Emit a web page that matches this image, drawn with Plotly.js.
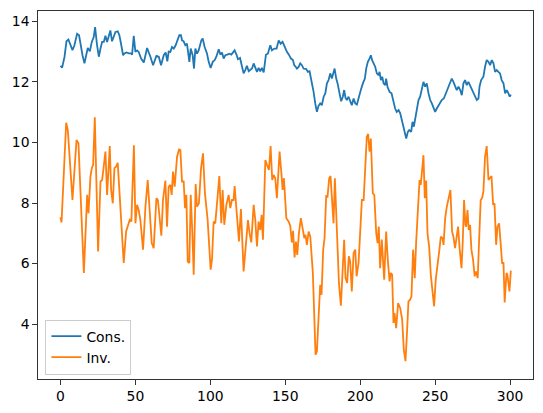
<!DOCTYPE html>
<html>
<head>
<meta charset="utf-8">
<script src="https://cdn.plot.ly/plotly-3.0.1.min.js"></script>
<style>html,body{margin:0;padding:0;background:#fff;}#chart{width:543px;height:413px;}</style>
</head>
<body>
<div id="chart"></div>
<script>
var seriesNames = ["Cons.", "Inv."];
var xTickVals = [0, 50, 100, 150, 200, 250, 300];
var yTickVals = [4, 6, 8, 10, 12, 14];

var consX = [0,1.1,2.7,4,5.3,6.7,8,9.3,11.1,12.4,13.8,14.7,16,17.3,18.2,19.6,20.9,22.2,23.1,24.4,25.6,26.7,27.8,28.9,30,31.1,32.2,33.3,34.4,35.6,36.7,38.2,39.3,40.4,41.8,42.7,44,45.6,47.1,47.8,48.9,50,51.1,52.2,53.8,55.6,57.8,60,61.8,64,65.6,67.1,68.9,70.2,71.3,72.2,73.3,74.4,75.6,76.7,77.8,79.3,80.4,81.1,82.2,83.3,84.4,85.1,86,86.9,88.2,89.1,90,91.1,92.2,94,94.9,96.2,97.8,98.9,100.2,101.6,102.9,104,105.6,106.7,107.8,108.9,110,111.3,112.7,114,115.1,116.2,117.6,118.4,119.8,121.1,122.2,123.3,124.4,125.6,126.7,127.8,128.9,130,131.1,132.2,133.3,134.4,135.6,137.1,138.4,140,141.1,142.7,144.2,145.6,146.9,148.2,149.6,151.1,152.4,153.8,155.1,156,156.9,157.8,159,160,161.1,162.2,164,165.1,166.2,167.8,168.9,170,171.1,172.2,173.3,174.4,175.6,176.7,177.8,178.9,180,181.1,182.2,182.9,184,184.9,186.2,187.3,188.4,189.3,190.2,191.1,192.2,193.3,194.4,195.6,196.7,197.8,199.1,200.4,201.8,203.1,204,205.1,206.2,207.1,208,208.9,210,211.1,212.2,212.9,213.8,214.7,215.6,216.7,217.3,218.2,219.6,220.9,222.2,223.3,224.4,225.6,226.7,227.8,228.9,230,230.7,231.8,232.7,234,234.9,235.8,236.7,237.8,238.9,240,241.1,242.2,243.3,244.4,245.6,246.7,247.8,248.9,250,251.1,252.2,253.3,254.4,255.8,256.7,257.8,258.9,260,261.1,262.2,263.3,264.4,265.6,266.7,267.8,268.9,270,271.1,272.2,273.3,274.4,275.6,276.7,277.8,278.9,279.6,280.7,282.2,283.3,284.4,285.6,286.7,287.8,288.9,290,291.1,292.2,293.3,294.4,295.6,296.7,297.8,298.9,299.8,300.5];
var consY = [12.53,12.47,12.83,13.34,13.40,13.21,13.05,13.21,13.59,13.54,13.10,12.88,12.61,12.93,13.12,13.01,13.32,13.48,13.81,13.21,12.83,13.10,13.32,13.32,13.52,13.32,13.52,13.70,13.34,13.54,13.65,13.67,13.54,13.26,12.88,12.94,12.97,12.94,12.94,12.90,13.52,12.99,13.04,12.99,12.77,12.64,13.12,12.83,12.55,12.86,12.83,12.55,12.88,12.97,12.68,13.00,12.99,13.15,13.10,13.19,13.32,13.54,13.54,13.37,13.34,13.21,13.26,12.88,12.66,13.10,12.88,12.44,13.10,12.93,13.04,13.37,13.43,13.15,12.93,12.66,12.46,12.66,12.72,12.83,13.08,12.90,12.97,12.77,12.88,12.90,12.93,12.90,12.99,13.04,12.88,12.75,12.79,12.55,12.28,12.39,12.53,12.35,12.39,12.44,12.61,12.44,12.33,12.46,12.35,12.46,12.31,12.90,12.93,13.21,13.04,13.10,13.10,13.37,13.26,13.32,13.15,12.99,12.90,12.77,12.72,12.55,12.50,12.44,12.50,12.61,12.55,12.44,12.42,12.33,12.35,12.00,11.67,11.29,11.01,11.21,11.29,11.23,11.51,11.62,11.95,12.06,12.28,12.11,12.33,12.44,12.11,11.95,11.62,11.36,11.51,11.73,11.47,11.40,11.51,11.34,11.23,11.45,11.29,11.25,11.45,11.73,11.95,12.11,12.44,12.66,12.77,12.88,12.71,12.61,12.50,12.28,12.22,12.33,12.06,12.17,11.95,11.89,12.11,11.84,11.67,11.62,11.29,11.12,11.01,11.07,10.96,10.74,10.46,10.24,10.13,10.35,10.41,10.35,10.68,10.52,10.74,11.01,11.40,11.51,11.80,12.00,11.84,11.95,11.62,11.40,11.29,11.12,11.01,11.12,11.23,11.34,11.40,11.45,11.56,11.73,11.89,12.00,12.11,12.00,11.84,11.73,11.84,11.73,11.56,11.95,12.06,11.89,12.00,11.89,11.78,11.67,11.51,11.40,11.45,11.84,12.06,12.17,12.50,12.72,12.66,12.55,12.72,12.61,12.33,12.39,12.33,12.28,12.06,11.95,11.62,11.73,11.62,11.51,11.58];

var invX = [0,0.7,3.8,4.9,8,10.7,12,13.8,15.6,17.8,18.7,20,20.9,21.8,22.9,25.1,26.7,27.8,30,31.1,32.9,33.8,34.9,36,37.1,38.2,39.6,40.7,42.2,43.8,44.9,46.2,47.3,49,50,51.1,52.2,53.3,55.1,56.7,58.2,59.6,60.9,62.2,64,65,66.7,67.3,68.4,70,71.1,72.2,73.3,74.2,75.1,76.2,77.8,79.1,80,81.1,82.2,83.1,84,84.9,86,86.9,88,88.9,90.2,91.1,92.4,93.8,95.1,96.4,98.2,99.3,100.2,101.1,102.2,103.3,106,107.3,108.2,109.3,110.7,112.2,113.3,114.4,115.5,116.2,117.8,119.1,120.4,122.2,123.8,125.1,126.2,127.3,128.9,130,131.1,132.2,133.3,134.2,135.1,136.7,137.8,139.1,140.2,141.3,142.2,143.3,144.4,146.2,147.6,148.2,149.1,150.7,152.2,153.3,154.4,155.2,156.2,157.1,158,159.1,160.4,161.6,162.7,163.5,164.4,165.6,166.7,168.4,169.3,170.2,171.1,172.4,173.3,174.2,175.3,176.2,177.3,178.2,179.3,180.2,181.3,182.2,183.1,184.4,185.8,187.1,188.2,189.3,190.2,191.3,192.4,193.3,194.4,195.6,196.7,197.6,198.9,200,201.1,202.3,203.6,204.4,205.3,206.2,207.1,208.4,209.4,210.7,211.6,212.4,213.3,214.4,216,217.3,218.4,219.6,220.4,221.3,222.2,222.9,224,225.3,226.7,228,229.1,230.2,231.1,232.2,233.3,234.2,235.3,236.4,237.3,238.4,239.6,240.4,241.3,242.2,243.1,244,244.9,246,247.1,248.2,249.3,250.4,251.8,252.7,253.8,254.9,255.6,256.7,257.8,258.9,260.2,261.3,262.2,263.3,264.4,265.3,266.4,267.6,268.4,269.3,270.2,270.7,271.6,272.4,273.3,274.2,275.3,276.4,277.3,278.4,279.6,280.4,281.3,282.2,283.3,284.4,285.6,286.7,287.6,288.7,289.6,290.7,291.6,292.7,293.8,294.7,295.6,296.4,297.6,298.2,299.6,300.5];
var invY = [7.53,7.36,10.65,10.41,8.10,10.08,9.97,7.66,5.69,8.27,7.66,8.87,9.15,9.26,10.83,6.40,8.71,8.76,9.70,8.27,9.88,8.43,7.99,9.15,9.20,9.33,8.10,7.44,6.02,7.06,7.28,7.44,7.39,9.91,7.33,7.94,7.77,7.44,6.46,7.88,8.76,7.77,6.68,6.51,8.16,8.10,7.00,6.92,8.10,8.74,7.22,8.54,8.60,8.27,9.04,8.54,9.53,9.77,9.75,8.71,8.71,7.83,8.27,6.07,6.02,8.27,7.00,5.63,8.63,7.88,7.99,9.15,9.64,8.32,7.44,6.24,5.80,6.13,7.39,7.33,8.89,7.33,8.43,7.28,7.94,8.27,7.83,8.10,8.10,8.56,7.55,6.73,7.80,5.74,6.68,7.44,7.00,6.70,7.94,7.44,6.57,7.39,7.11,7.61,6.79,9.42,9.26,9.09,9.88,8.76,8.93,8.82,8.16,9.70,8.87,8.43,8.82,7.50,7.39,7.25,6.70,7.08,6.20,6.73,6.29,7.00,7.50,7.17,6.84,6.95,6.62,7.06,6.89,5.69,4.48,2.99,3.10,4.48,5.30,4.97,6.46,6.84,8.23,8.21,8.82,8.89,7.77,7.33,8.82,6.89,5.36,4.61,5.91,6.79,5.52,5.36,6.24,6.07,5.08,6.35,6.46,5.58,6.02,7.00,8.10,8.10,9.53,10.19,10.28,9.70,10.13,8.32,8.27,7.00,6.68,7.22,5.85,6.79,5.47,7.06,6.13,5.41,5.69,5.64,4.04,4.37,3.87,4.70,4.53,4.15,3.16,2.78,3.60,4.75,4.81,4.92,6.46,5.52,6.68,7.55,8.76,8.60,9.09,9.58,8.16,8.74,7.00,6.57,5.63,5.19,4.59,5.47,5.96,6.40,6.89,6.84,6.62,7.50,7.88,8.16,8.43,7.06,6.89,6.51,7.00,7.22,6.46,5.85,6.68,8.10,7.28,7.22,7.77,7.11,7.28,6.46,6.13,5.58,5.74,5.52,7.11,8.10,8.16,8.38,9.53,9.88,8.76,8.82,8.89,7.94,7.99,6.62,7.22,7.33,6.68,6.02,6.02,4.72,5.69,5.64,5.08,5.77];

var traces = [
  {x: consX, y: consY, name: seriesNames[0], type: "scatter", mode: "lines",
   line: {color: "#1f77b4", width: 1.8}},
  {x: invX, y: invY, name: seriesNames[1], type: "scatter", mode: "lines",
   line: {color: "#ff7f0e", width: 1.8}}
];

var axisCommon = {
  showgrid: false, zeroline: false, showline: true, mirror: true,
  linecolor: "#000", linewidth: 0.8, ticks: "outside", ticklen: 4.9,
  tickwidth: 0.8, tickcolor: "#000",
  tickfont: {family: "DejaVu Sans", size: 13.9, color: "#000"}
};

var layout = {
  width: 543, height: 413,
  margin: {l: 37.5, r: 10, t: 10.7, b: 33.7, pad: 0},
  paper_bgcolor: "#fff", plot_bgcolor: "#fff",
  showlegend: true,
  xaxis: Object.assign({}, axisCommon, {range: [-15, 315.3], tickmode: "array", tickvals: xTickVals, ticktext: xTickVals.map(String)}),
  yaxis: Object.assign({}, axisCommon, {range: [2.19, 14.34], tickmode: "array", tickvals: yTickVals, ticktext: yTickVals.map(String)}),
  legend: {x: 0.015, y: 0.012, xanchor: "left", yanchor: "bottom",
    bgcolor: "rgba(255,255,255,0.8)", bordercolor: "#cccccc", borderwidth: 1,
    font: {family: "DejaVu Sans", size: 13.9, color: "#000"}}
};

Plotly.newPlot("chart", traces, layout, {displayModeBar: false, staticPlot: true});
</script>
</body>
</html>
